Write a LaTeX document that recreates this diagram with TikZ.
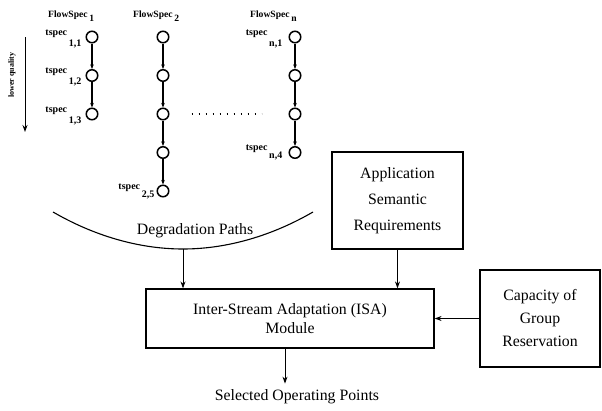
\documentclass[tikz,border=0pt]{standalone}
\usepackage{fontspec}
\setmainfont{Liberation Serif}
\usetikzlibrary{positioning, calc, arrows.meta}

\newcommand{\tsp}[2][11pt]{tspec\raisebox{-#1}{\,#2}}

\begin{document}
\begin{tikzpicture}[
    x=1pt, y=-1pt,
    node distance=25.5pt and 20pt,
    ts/.style={draw, circle, line width=1.5pt, minimum size=11.5pt, inner sep=0pt},
    box/.style={draw, line width=1.2pt, align=center, inner sep=0pt, font=\fontsize{15.8}{19.5}\selectfont},
    lbl/.style={font=\bfseries\fontsize{10}{11}\selectfont, inner sep=0pt},
    txt/.style={font=\fontsize{15.8}{19}\selectfont, inner sep=0pt},
    arr/.style={-{Stealth[length=7pt, width=5pt]}, line width=1pt},
    sarr/.style={-{Stealth[length=4.5pt, width=3.5pt]}, line width=1.1pt},
    dotline/.style={line width=1.1pt, dash pattern=on 1.2pt off 5.8pt},
]
\useasboundingbox (0,0) rectangle (602,410);

% FlowSpec 1
\node[ts] (c11) at (92,37) {};
\node[ts, below=of c11] (c12) {};
\node[ts, below=of c12] (c13) {};

% FlowSpec 2
\node[ts] (c21) at (163,37) {};
\node[ts, below=of c21] (c22) {};
\node[ts, below=of c22] (c23) {};
\node[ts, below=of c23] (c24) {};
\node[ts, below=of c24] (c25) {};

% FlowSpec n
\node[ts] (cn1) at (295,37) {};
\node[ts, below=of cn1] (cn2) {};
\node[ts, below=of cn2] (cn3) {};
\node[ts, below=of cn3] (cn4) {};

% degradation steps
\draw[sarr] (c11) -- (c12);
\draw[sarr] (c12) -- (c13);
\draw[sarr] (c21) -- (c22);
\draw[sarr] (c22) -- (c23);
\draw[sarr] (c23) -- (c24);
\draw[sarr] (c24) -- (c25);
\draw[sarr] (cn1) -- (cn2);
\draw[sarr] (cn2) -- (cn3);
\draw[sarr] (cn3) -- (cn4);
\draw[dotline] ($(c23.east)+(22,0)$) -- ($(cn3.west)+(-27,0)$);

% column heads
\node[lbl, anchor=base west, font=\bfseries\fontsize{9.6}{11}\selectfont] (fs1) at (48,17) {FlowSpec\raisebox{-4pt}{\,1}};
\node[lbl, anchor=base west, font=\bfseries\fontsize{9.6}{11}\selectfont] (fs2) at (133,17) {FlowSpec\raisebox{-4pt}{\,2}};
\node[lbl, anchor=base west, font=\bfseries\fontsize{9.6}{11}\selectfont] (fsn) at (250,17) {FlowSpec\raisebox{-4pt}{\,n}};

% tspec labels
\node[lbl, anchor=base east] (t11) at ($(c11.west)+(-4,-2)$) {\tsp{1,1}};
\node[lbl, anchor=base east] (t12) at ($(c12.west)+(-4,-2)$) {\tsp{1,2}};
\node[lbl, anchor=base east] (t13) at ($(c13.west)+(-4,-2)$) {\tsp{1,3}};
\node[lbl, anchor=base east] (t25) at ($(c25.west)+(-2,-2)$) {\tsp[8pt]{2,5}};
\node[lbl, anchor=base east] (tn1) at ($(cn1.west)+(-6,-2)$) {\tsp{n,1}};
\node[lbl, anchor=base east] (tn4) at ($(cn4.west)+(-6,-2)$) {\tsp[8pt]{n,4}};

% quality direction
\coordinate (lqtop) at (25,37);
\coordinate (lqbot) at (25,132);
\draw[arr] (lqtop) -- (lqbot);
\node[lbl, rotate=90, font=\bfseries\fontsize{8}{9}\selectfont] (lq) at (12,75) {lower quality};

% degradation paths
\draw[line width=1.1pt] (53,212) parabola bend (183,249) (313,212);
\coordinate (dp) at (183,249);
\node[txt] (deg) at (195,231) {Degradation Paths};

% blocks
\node[box, minimum width=288pt, minimum height=59pt] (isa) at (290,318.5)
    {Inter-Stream Adaptation (ISA)\\Module};
\node[box, minimum width=131pt, minimum height=97pt, font=\fontsize{15.8}{26}\selectfont] (app) at (397.5,200.5)
    {Application\\Semantic\\Requirements};
\node[box, minimum width=120pt, minimum height=97pt, font=\fontsize{15.8}{23}\selectfont] (cap) at (540,318.5)
    {Capacity of\\Group\\Reservation};
\node[txt, inner ysep=6pt] (sel) at (297,397) {Selected Operating Points};

\draw[arr] (dp) -- (dp |- isa.north);
\draw[arr] (app) -- (app |- isa.north);
\draw[arr] (cap) -- (isa);
\draw[arr] ([xshift=-5pt]isa.south) -- ([xshift=-5pt]isa.south |- sel.north);

\end{tikzpicture}
\end{document}
